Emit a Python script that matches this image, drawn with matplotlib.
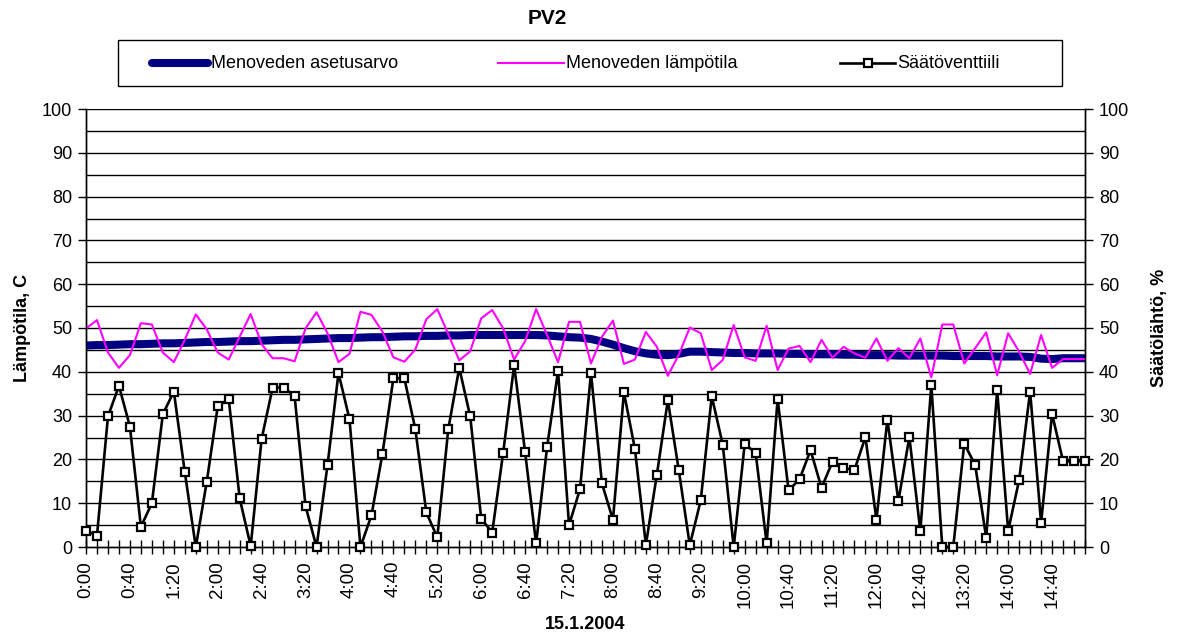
import matplotlib
matplotlib.use("Agg")
import matplotlib.pyplot as plt
from matplotlib.lines import Line2D
from matplotlib.patches import Rectangle

plt.rcParams['font.family'] = ['Liberation Sans', 'DejaVu Sans']

title = "PV2"
series_names = ["Menoveden asetusarvo", "Menoveden lämpötila", "Säätöventtiili"]
x_label = "15.1.2004"
y_label_left = "Lämpötila, C"
y_label_right = "Säätölähtö, %"

tick_labels = ["0:00", "0:40", "1:20", "2:00", "2:40", "3:20", "4:00", "4:40",
               "5:20", "6:00", "6:40", "7:20", "8:00", "8:40", "9:20", "10:00",
               "10:40", "11:20", "12:00", "12:40", "13:20", "14:00", "14:40"]
label_every = 4

setpoint = [46.0, 46.1, 46.1, 46.2, 46.3, 46.3, 46.4, 46.5, 46.5, 46.6,
            46.7, 46.8, 46.8, 46.9, 47.0, 47.0, 47.1, 47.2, 47.3, 47.3,
            47.4, 47.5, 47.6, 47.7, 47.7, 47.8, 47.9, 47.9, 48.0, 48.1,
            48.1, 48.2, 48.2, 48.3, 48.3, 48.4, 48.4, 48.4, 48.4, 48.4,
            48.4, 48.4, 48.3, 48.1, 47.9, 47.8, 47.5, 46.9, 46.2, 45.4,
            44.7, 44.2, 43.9, 43.8, 44.1, 44.6, 44.6, 44.5, 44.4, 44.3,
            44.3, 44.2, 44.2, 44.2, 44.1, 44.1, 44.0, 44.0, 44.0, 43.9,
            43.9, 43.8, 43.8, 43.8, 43.7, 43.7, 43.7, 43.7, 43.7, 43.6,
            43.6, 43.6, 43.6, 43.5, 43.5, 43.5, 43.4, 43.0, 42.9, 43.1,
            43.1, 43.1]

temperature = [49.9, 51.8, 44.4, 40.9, 43.8, 51.1, 50.8, 44.4, 42.2, 47.3,
               53.1, 49.7, 44.4, 42.8, 48.0, 53.2, 46.3, 43.1, 43.1, 42.4,
               49.9, 53.6, 48.8, 42.2, 44.1, 53.7, 53.0, 49.2, 43.3, 42.3,
               45.1, 52.0, 54.3, 48.6, 42.6, 44.7, 52.2, 54.1, 49.9, 42.8,
               47.0, 54.3, 48.4, 42.2, 51.4, 51.4, 41.9, 48.0, 51.7, 41.8,
               42.8, 49.1, 45.7, 39.1, 43.9, 50.1, 48.8, 40.4, 42.7, 50.7,
               43.3, 42.5, 50.5, 40.4, 45.3, 45.9, 42.2, 47.3, 43.2, 45.7,
               44.2, 43.2, 47.6, 42.5, 45.4, 43.1, 47.6, 38.7, 50.8, 50.8,
               41.9, 45.4, 49.0, 39.2, 48.8, 44.6, 39.5, 48.4, 40.9, 42.9,
               42.9, 42.9]

valve = [3.7, 2.6, 29.8, 36.8, 27.5, 4.6, 10.0, 30.3, 35.5, 17.1,
         0.0, 14.9, 32.1, 33.8, 11.1, 0.2, 24.7, 36.4, 36.4, 34.5,
         9.3, 0.0, 18.7, 39.7, 29.2, 0.0, 7.2, 21.2, 38.5, 38.5,
         26.9, 7.9, 2.2, 26.9, 40.9, 29.8, 6.5, 3.3, 21.5, 41.5,
         21.6, 0.8, 22.8, 40.2, 5.0, 13.2, 39.7, 14.5, 6.2, 35.3,
         22.4, 0.5, 16.5, 33.5, 17.5, 0.4, 10.7, 34.4, 23.4, 0.0,
         23.5, 21.5, 0.8, 33.8, 12.9, 15.5, 22.1, 13.5, 19.5, 18.0,
         17.6, 25.1, 6.2, 29.1, 10.5, 25.1, 3.7, 36.9, 0.0, 0.0,
         23.6, 18.7, 2.1, 35.8, 3.7, 15.3, 35.5, 5.5, 30.4, 19.6,
         19.6, 19.6]

NAVY = "#000080"
MAGENTA = "#FF00FF"

W, H = 1178, 634
fig = plt.figure(figsize=(W / 100, H / 100), dpi=100)
fig.patch.set_facecolor("white")

L, R, B, T = 86, 1085, 547, 109
ax = fig.add_axes([L / W, 1 - B / H, (R - L) / W, (B - T) / H])
ax2 = ax.twinx()

n = len(valve)
xs = list(range(n))

ax.plot(xs, setpoint, color=NAVY, lw=5.8, solid_capstyle='round', zorder=3)
ax.plot(xs, temperature, color=MAGENTA, lw=1.5, zorder=4)
ax2.plot(xs, valve, color="black", lw=1.9, marker='s', markersize=6.2,
         markerfacecolor="white", markeredgecolor="black", markeredgewidth=1.6,
         zorder=5, clip_on=False)

for a in (ax, ax2):
    a.set_ylim(0, 100)
    a.set_yticks(range(0, 101, 10))
    a.tick_params(axis='y', direction='out', length=6, width=1, labelsize=13,
                  color='black', pad=4)
    for s in a.spines.values():
        s.set_color('black')
        s.set_linewidth(1)
    a.spines['top'].set_visible(False)

ax.set_xlim(0, n - 1)

for yv in range(5, 101, 5):
    ax.axhline(yv, color='black', lw=1, zorder=1)

ax.set_xticks(xs)
ax.set_xticklabels([tick_labels[i // label_every] if i % label_every == 0 else ""
                    for i in xs], rotation=90, fontsize=13.5)
ax.tick_params(axis='x', direction='inout', length=10, width=1, pad=5)

ax.set_ylabel(y_label_left, fontsize=13, fontweight='bold', labelpad=8)
ax2.set_ylabel(y_label_right, fontsize=13, fontweight='bold', labelpad=16)
ax.set_xlabel(x_label, fontsize=13, fontweight='bold', labelpad=6)
ax.patch.set_visible(False)

fig.text(547 / W, 1 - 18 / H, title, ha='center', va='center',
         fontsize=15, fontweight='bold')

# legend
lx0, lx1, ly0, ly1 = 118, 1062, 40, 86
fig.add_artist(Rectangle((lx0 / W, 1 - ly1 / H), (lx1 - lx0) / W, (ly1 - ly0) / H,
                         transform=fig.transFigure, fill=False, edgecolor='black', lw=1))
ly = 1 - 63 / H
fig.add_artist(Line2D([152 / W, 208 / W], [ly, ly], color=NAVY, lw=5.8,
                      solid_capstyle='round', transform=fig.transFigure))
fig.text(211 / W, ly, series_names[0], ha='left', va='center', fontsize=13)
fig.add_artist(Line2D([498 / W, 564 / W], [ly, ly], color=MAGENTA, lw=1.5,
                      transform=fig.transFigure))
fig.text(566 / W, ly, series_names[1], ha='left', va='center', fontsize=13)
fig.add_artist(Line2D([840 / W, 895 / W], [ly, ly], color='black', lw=1.9,
                      transform=fig.transFigure))
fig.add_artist(Line2D([867.5 / W], [ly], color='black', marker='s', markersize=6.2,
                      markerfacecolor='white', markeredgewidth=1.6,
                      transform=fig.transFigure))
fig.text(897 / W, ly, series_names[2], ha='left', va='center', fontsize=13)

fig.savefig("out.png", dpi=100)
